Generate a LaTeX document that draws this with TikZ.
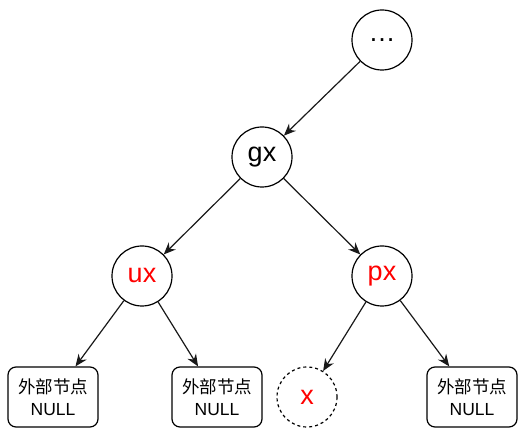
\documentclass[tikz,border=0pt]{standalone}
\usepackage{fontspec}
\setmainfont{Liberation Sans}
\newfontfamily\cjk{Noto Sans CJK SC}
\usetikzlibrary{arrows.meta}

\tikzset{
  treenode/.style={circle, draw, line width=1.2bp, minimum size=60bp, inner sep=0pt,
    font=\fontsize{27bp}{31bp}\selectfont},
  extnode/.style={rectangle, draw, rounded corners=8bp, line width=1.2bp,
    minimum width=90bp, minimum height=60bp, inner sep=0pt, align=center,
    font=\fontsize{17.5bp}{22bp}\selectfont},
  link/.style={-{Stealth[length=12bp, width=10bp]}, line width=1.2bp, black!90},
}

\begin{document}
\begin{tikzpicture}[x=1bp, y=1bp]
    \useasboundingbox (0,0) rectangle (528,439);
    % upper part of the tree
    \node[treenode] (top) at (382,399) {\ldots};
    \node[treenode] (gx) at (262,282) {gx};
    \node[treenode, text=red] (ux) at (142,163) {ux};
    \node[treenode, text=red] (px) at (382,163) {px};
    % leaves
    \node[extnode] (nullA) at (53,42) {{\cjk 外部节点}\\NULL};
    \node[extnode] (nullB) at (217,42) {{\cjk 外部节点}\\NULL};
    \node[treenode, dashed, text=red] (x) at (307,42) {x};
    \node[extnode] (nullC) at (472,42) {{\cjk 外部节点}\\NULL};
    \draw[link] (top) -- (gx);
    \draw[link] (gx) -- (ux);
    \draw[link] (gx) -- (px);
    \draw[link] (ux) -- (nullA);
    \draw[link] (ux) -- (nullB);
    \draw[link] (px) -- (x);
    \draw[link] (px) -- (nullC);
\end{tikzpicture}
\end{document}
